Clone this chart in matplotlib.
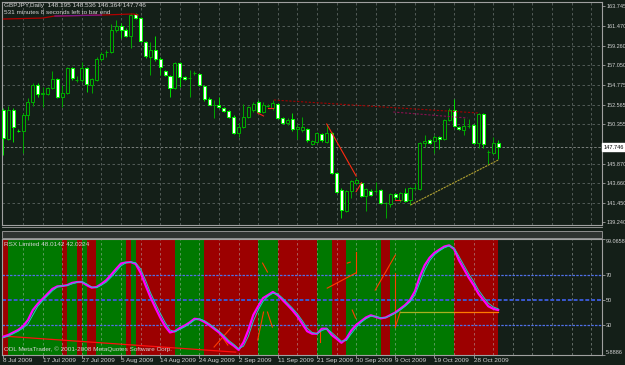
import matplotlib
matplotlib.use('Agg')
import matplotlib.pyplot as plt
import matplotlib.transforms as mtransforms
from matplotlib.lines import Line2D
from matplotlib.patches import Rectangle

# ---- data (bar index 0 = 8 Jul 2009, MT4 daily incl. sunday bars) ----
opens = [151.95, 148.66, 151.95, 149.60, 149.56, 151.38, 152.85, 154.78, 153.76, 153.76,
         154.44, 155.46, 153.42, 153.88, 156.71, 155.35, 155.35, 156.71, 154.78, 155.35,
         157.73, 158.53, 158.53, 161.02, 161.48, 161.02, 160.34, 162.84, 162.38, 159.66,
         157.96, 158.75, 157.73, 156.37, 155.80, 154.44, 157.28, 155.69, 155.58, 156.14,
         156.03, 154.67, 153.19, 152.51, 152.51, 152.17, 151.83, 151.15, 149.34, 150.02,
         151.15, 151.95, 152.85, 151.72, 152.40, 152.17, 152.63, 151.04, 150.47, 150.93,
         149.79, 149.68, 149.79, 148.09, 148.32, 149.22, 148.32, 149.34, 144.80, 142.87,
         140.49, 142.76, 143.67, 143.67, 142.19, 142.76, 142.76, 142.87, 141.40, 141.28,
         142.42, 141.74, 142.53, 141.74, 143.10, 142.98, 148.20, 148.54, 148.43, 148.88,
         148.66, 150.81, 151.95, 150.02, 149.68, 150.13, 150.25, 148.20, 151.49, 147.18,
         147.07, 148.195]
highs = [152.17, 152.40, 152.17, 149.79, 151.61, 153.31, 155.01, 155.01, 154.56, 154.56,
         156.37, 155.58, 154.78, 156.83, 156.83, 155.80, 157.39, 156.83, 155.58, 157.96,
         158.53, 158.75, 161.70, 162.16, 161.82, 161.25, 162.95, 162.95, 162.50, 159.77,
         159.66, 160.34, 157.96, 156.48, 155.92, 157.39, 157.39, 155.80, 156.48, 156.37,
         156.14, 154.78, 153.42, 153.08, 153.42, 152.29, 151.95, 151.38, 150.47, 152.63,
         152.40, 152.85, 153.08, 152.85, 152.63, 153.08, 152.74, 151.15, 151.04, 151.61,
         150.36, 151.15, 149.90, 148.54, 149.45, 149.34, 150.36, 149.45, 144.91, 143.10,
         142.87, 144.01, 144.23, 143.78, 143.10, 142.98, 143.78, 142.98, 141.51, 142.53,
         142.53, 142.64, 143.10, 143.21, 143.67, 148.32, 149.11, 148.66, 149.11, 148.99,
         150.93, 152.17, 153.19, 150.13, 151.04, 150.93, 150.36, 151.61, 151.61, 147.41,
         148.88, 148.536]
lows = [146.84, 148.54, 148.32, 149.45, 147.07, 150.81, 152.40, 153.42, 152.29, 153.65,
        154.33, 153.31, 152.29, 153.76, 155.35, 155.12, 155.12, 153.99, 153.88, 155.24,
        157.51, 157.96, 158.41, 160.80, 160.12, 160.23, 158.98, 162.27, 159.66, 157.85,
        155.92, 157.51, 155.92, 155.80, 153.42, 154.33, 154.56, 155.35, 153.42, 155.92,
        154.67, 152.97, 152.51, 151.04, 152.17, 151.72, 151.04, 149.22, 148.88, 149.90,
        151.04, 151.72, 151.61, 151.61, 152.29, 151.95, 150.93, 150.36, 150.25, 149.56,
        148.66, 149.45, 148.32, 147.98, 148.20, 148.32, 148.20, 144.69, 142.53, 139.69,
        140.38, 141.96, 143.55, 142.08, 140.49, 142.19, 142.53, 141.28, 139.69, 140.94,
        141.74, 141.51, 141.51, 141.17, 142.87, 142.87, 147.75, 148.09, 147.07, 147.52,
        148.54, 150.70, 150.02, 149.70, 149.11, 149.90, 148.09, 147.64, 147.64, 145.82,
        146.95, 146.364]
closes = [148.77, 151.95, 150.02, 149.56, 151.38, 152.85, 154.78, 153.76, 153.88, 154.44,
          155.46, 153.42, 153.88, 156.71, 155.58, 155.35, 156.71, 154.90, 155.46, 157.73,
          158.30, 158.53, 161.02, 161.48, 161.02, 160.34, 162.72, 162.38, 159.77, 158.07,
          158.75, 157.73, 156.83, 155.92, 154.44, 157.28, 155.69, 155.46, 155.58, 156.14,
          154.78, 153.19, 152.55, 152.51, 152.29, 151.83, 151.15, 149.34, 150.02, 151.15,
          152.29, 152.63, 151.72, 152.51, 152.40, 152.74, 151.04, 150.47, 150.81, 149.79,
          150.02, 150.02, 148.54, 148.43, 149.34, 148.54, 149.34, 144.80, 142.64, 140.60,
          142.76, 143.89, 144.01, 142.19, 142.98, 142.30, 142.76, 141.40, 141.45, 142.42,
          142.08, 142.53, 141.62, 143.10, 143.10, 148.20, 148.43, 148.20, 148.88, 148.66,
          150.81, 151.95, 150.13, 149.79, 150.13, 150.13, 148.20, 151.49, 148.09, 147.18,
          148.20, 147.746]

rsx = [20.6, 22, 24, 26, 29, 34, 42, 47, 51, 55, 59, 61, 61.3, 62, 63.8, 64.5, 64.5, 62, 60, 60.5,
       63, 66, 70.4, 75, 79.4, 80.2, 80.5, 79, 72, 62, 52.4, 44, 36, 29, 24, 25, 27.5, 29.5, 32, 35,
       34.5, 32.5, 30, 27, 24, 20, 16, 13.3, 10, 16, 26, 38, 45, 51.6, 54, 56.5, 54, 50, 46, 41.8,
       37, 31, 25, 23, 23, 27, 27, 22, 19, 15.7, 19, 25.5, 30, 33, 36, 37.8, 36.5, 35.3, 36, 38,
       40, 43, 46, 50, 57, 68.8, 78, 84, 88, 90.5, 93, 94, 91, 82, 75, 68, 62, 55, 50, 45, 43, 42]
rsx_signal = [19.8, 21, 23, 25, 27.5, 31, 38, 45, 49.5, 53.5, 57.5, 60.5, 61.5, 61.8, 63, 64.3, 64.8,
              63, 60.5, 60, 62, 64.5, 68.5, 73, 77.5, 80, 80.5, 80, 75, 66, 56, 47.5, 39.5, 32, 26,
              24.5, 26.5, 28.5, 31, 34, 35, 33.5, 31, 28, 25, 21.5, 17.5, 14.5, 11, 13, 21, 33, 42,
              49, 53, 55.5, 55, 51.5, 47.5, 43.5, 39, 33.5, 27.5, 24, 23, 25.5, 27, 24, 20.5, 17,
              17.5, 23, 28, 32, 35, 37, 37, 35.8, 35.8, 37.5, 39.5, 42, 45, 48.5, 54, 64, 74, 81.5,
              86.5, 89.5, 92, 93.5, 92, 85, 78, 71, 65, 58, 52.5, 47.5, 44.5, 43]
# background state of the RSX window per bar: r = falling (red), g = rising (green)
rsx_state = ("rr" + "g" * 11 + "r" + "gg" + "r" + "g" + "rr" + "g" * 6 + "r" + "g" + "r" * 8
             + "g" * 6 + "r" * 11 + "g" * 4 + "r" * 8 + "g" * 3 + "r" * 3 + "g" * 7 + "rr"
             + "g" * 13 + "r" * 9)

date_labels = ['8 Jul 2009', '17 Jul 2009', '27 Jul 2009', '5 Aug 2009', '14 Aug 2009',
               '24 Aug 2009', '2 Sep 2009', '11 Sep 2009', '21 Sep 2009', '30 Sep 2009',
               '9 Oct 2009', '19 Oct 2009', '28 Oct 2009']
price_ticks = [139.240, 141.450, 143.660, 145.870, 150.355, 152.565, 154.775,
               157.050, 159.260, 161.470, 163.745]
rsx_ticks = [5.8886, 30, 50, 70, 99.0658]
rsx_levels = [30, 50, 70]
last_price = 147.746

# hand drawn objects on the chart: (x bars, y values)
top_line = ([0, 8, 10.5, 20, 26.5, 27.5], [162.27, 162.38, 162.61, 162.72, 162.84, 162.72])
res_line_a = ([55.2, 96.9], [153.08, 151.61])
res_line_b = ([79.6, 94.7], [151.72, 151.04])
drop_line = ([66.0, 72.0], [150.36, 144.46])
sup_line = ([83.1, 101.0], [141.17, 146.27])
small_red = [([72.0, 73.1], [142.68, 143.70]), ([51.9, 53.1], [151.61, 151.27]),
             ([54.0, 55.0], [152.17, 152.17]), ([80.0, 81.0], [141.74, 141.74])]
rsx_red = ([0, 47.4], [21.1, 8.2])
rsx_marks = [([43.0, 46.4], [12.3, 27.5]), ([43.7, 45.8], [25.9, 13.9]),
             ([52.9, 53.9], [79.7, 72.5]), ([51.9, 53.1], [17.9, 40.4]),
             ([53.9, 54.9], [40.4, 28.3]), ([66.1, 71.9], [59.6, 71.7]),
             ([71.9, 71.9], [88.5, 71.7]), ([70.2, 70.8], [79.7, 80.5]),
             ([71.2, 71.9], [42.0, 35.5]), ([64.7, 64.7], [25.9, 16.3]),
             ([75.9, 80.0], [58.0, 86.1]), ([80.0, 80.0], [71.7, 28.3]),
             ([80.0, 81.0], [28.3, 40.4])]
rsx_flat = ([81, 92, 101], [40.4, 40.4, 40.4])

BG = '#141f18'
GRID = '#5b6460'
TXT = '#d2d2d2'
FRAME = '#a0a0a0'
W, H = 625, 365
FS = 4.0

plt.rcParams['font.family'] = ['Liberation Sans', 'DejaVu Sans']

fig = plt.figure(figsize=(6.25, 3.65), dpi=100, facecolor=BG)
ax = fig.add_axes([2 / W, 1 - 225 / H, 600 / W, 223 / H], facecolor=BG)
ax2 = fig.add_axes([2 / W, 1 - 355 / H, 600 / W, 116 / H], facecolor=BG)

xmin, xmax = -0.3, 122.2
n = len(opens)

# ---------------- price window ----------------
for gx in range(4, 124, 4):
    ax.axvline(gx, color=GRID, lw=0.6, ls=(0, (3, 3)), zorder=0)
for gy in price_ticks[1:-1]:
    ax.axhline(gy, color=GRID, lw=0.6, ls=(0, (3, 3)), zorder=0)
ax.axhline(last_price, color='#8a8f8c', lw=0.6, ls=(0, (3, 2)), zorder=0)

bull = [i for i in range(n) if closes[i] >= opens[i]]
bear = [i for i in range(n) if closes[i] < opens[i]]
ax.vlines(bull, [lows[i] for i in bull], [highs[i] for i in bull], color='#00a800', lw=0.7, zorder=2)
ax.vlines(bear, [lows[i] for i in bear], [highs[i] for i in bear], color='#00e000', lw=0.7, zorder=2)
ax.bar(bull, [max(closes[i] - opens[i], 0.04) for i in bull], bottom=[opens[i] for i in bull],
       width=0.62, facecolor=BG, edgecolor='#00b000', lw=0.7, zorder=3)
ax.bar(bear, [max(opens[i] - closes[i], 0.04) for i in bear], bottom=[closes[i] for i in bear],
       width=0.62, facecolor='white', edgecolor='#00ff00', lw=0.7, zorder=3)

ax.plot(*top_line, color='#b00000', lw=0.9, zorder=4)
ax.plot(top_line[0][2:4], top_line[1][2:4], color='#7a1a8a', lw=0.9, zorder=4)
ax.plot(*res_line_a, color='#a00000', lw=0.8, ls=(0, (2, 1.5)), zorder=4)
ax.plot(*res_line_b, color='#8a1050', lw=0.8, ls=(0, (2, 1.5)), zorder=4)
ax.plot(*drop_line, color='#ff2a10', lw=0.8, zorder=4)
ax.plot(*sup_line, color='#b0a030', lw=0.8, ls=(0, (2, 0.8)), zorder=4)
for xs, ys in small_red:
    ax.plot(xs, ys, color='#ff2020', lw=0.8, zorder=4)

ax.set_xlim(xmin, xmax)
ax.set_ylim(138.90, 164.20)
ax.set_xticks([])
ax.yaxis.tick_right()
ax.set_yticks(price_ticks)
ax.set_yticklabels(['%.3f' % v for v in price_ticks])
ax.tick_params(axis='y', colors=FRAME, labelcolor=TXT, labelsize=FS, length=2, width=0.6, pad=1)
ax.text(1.002, last_price, '%.3f' % last_price,
        transform=mtransforms.blended_transform_factory(ax.transAxes, ax.transData),
        ha='left', va='center', fontsize=FS, color='black',
        bbox=dict(boxstyle='square,pad=0.25', fc='white', ec='white'), clip_on=False, zorder=6)

# ---------------- RSX window ----------------
colors = ['#9c0000' if s == 'r' else '#007800' for s in rsx_state]
ax2.bar([i - 0.5 for i in range(n)], [99.0658 - 5.8886] * n, bottom=5.8886, width=1.02,
        color=colors, lw=0, zorder=0)
for gx in range(4, 124, 4):
    ax2.axvline(gx, color='#b8c0bc', lw=0.6, ls=(0, (3, 3)), alpha=0.55, zorder=1)
for lv in rsx_levels:
    ax2.axhline(lv, color='#5070e8' if lv != 50 else '#3a58d0', lw=0.9 if lv != 50 else 1.4,
                ls=(0, (2, 1)), zorder=2)
ax2.plot(*rsx_red, color='#ff1010', lw=0.9, zorder=3)
for xs, ys in rsx_marks:
    ax2.plot(xs, ys, color='#ff3c00', lw=0.8, zorder=3)
ax2.plot(rsx_flat[0][:2], rsx_flat[1][:2], color='#a8b020', lw=0.9, zorder=3)
ax2.plot(rsx_flat[0][1:], rsx_flat[1][1:], color='#ff7a00', lw=0.9, zorder=3)
ax2.plot(range(n), rsx, color='#ff00ff', lw=1.6, zorder=4)
ax2.plot(range(n), rsx_signal, color='#20c8c8', lw=0.7, zorder=5)

ax2.set_xlim(xmin, xmax)
ax2.set_ylim(5.8886, 99.0658)
ax2.yaxis.tick_right()
ax2.set_yticks(rsx_ticks)
ax2.set_yticklabels(['5.8886', '30', '50', '70', '99.0658'])
ax2.tick_params(axis='y', colors=FRAME, labelcolor=TXT, labelsize=FS, length=2, width=0.6, pad=1)
tl = ax2.get_yticklabels()
tl[0].set_va('bottom')
tl[-1].set_va('top')
ax2.set_xticks(range(0, 8 * len(date_labels), 8))
ax2.set_xticklabels(date_labels)
ax2.tick_params(axis='x', colors=FRAME, labelcolor=TXT, labelsize=4.6, length=2, width=0.6, pad=0.3)
for t in ax2.get_xticklabels():
    t.set_ha('left')

for a in (ax, ax2):
    for sp in a.spines.values():
        sp.set_color(FRAME)
        sp.set_linewidth(0.8)

# window separator
fig.add_artist(Line2D([2 / W, 602 / W], [1 - 227 / H] * 2, color=FRAME, lw=0.6))
fig.add_artist(Rectangle((2 / W, 1 - 238 / H), 600 / W, 7 / H, facecolor='#2e3330',
                         edgecolor=FRAME, lw=0.6))

# window texts
fig.text(4 / W, 1 - 6 / H, 'GBPJPY,Daily  148.195 148.536 146.364 147.746', fontsize=4.6,
         color=TXT, va='center', ha='left')
fig.text(4 / W, 1 - 13 / H, '531 minutes 8 seconds left to bar end', fontsize=4.6,
         color=TXT, va='center', ha='left')
fig.text(4 / W, 1 - 245 / H, 'RSX Limited 48.0142 42.0224', fontsize=4.6,
         color=TXT, va='center', ha='left')
fig.text(4 / W, 1 - 349 / H, 'ODL MetaTrader, \u00a9 2001-2008 MetaQuotes Software Corp.',
         fontsize=4.6, color=TXT, va='center', ha='left')

fig.savefig('out.png', dpi=100, facecolor=BG)
